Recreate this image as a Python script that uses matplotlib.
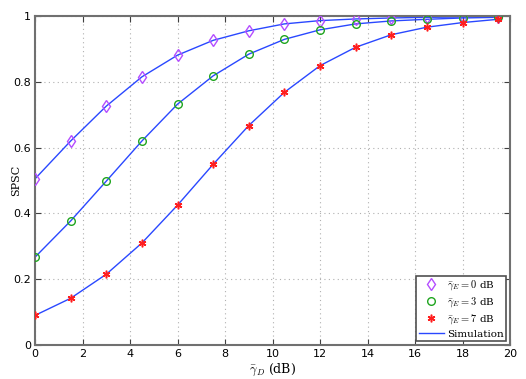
import matplotlib.pyplot as plt

plt.rcParams["mathtext.fontset"] = "cm"

# SNR of main channel (dB)
snr_db = [0, 1.5, 3, 4.5, 6, 7.5, 9, 10.5, 12, 13.5, 15, 16.5, 18, 19.5]

# SPSC for each eavesdropper average SNR
spsc_e0 = [0.505, 0.620, 0.726, 0.815, 0.881, 0.926, 0.955, 0.976, 0.986, 0.991, 0.994, 0.996, 0.997, 0.998]
spsc_e3 = [0.267, 0.377, 0.498, 0.620, 0.732, 0.818, 0.884, 0.929, 0.958, 0.976, 0.985, 0.990, 0.994, 0.996]
spsc_e7 = [0.090, 0.142, 0.215, 0.310, 0.425, 0.549, 0.667, 0.768, 0.849, 0.905, 0.943, 0.966, 0.980, 0.990]

labels = [r"$\bar{\gamma}_E = 0$ dB", r"$\bar{\gamma}_E = 3$ dB", r"$\bar{\gamma}_E = 7$ dB"]

fig = plt.figure(figsize=(5.26, 3.79), dpi=100)
ax = fig.add_axes([35 / 526, 34 / 379, 475 / 526, 329 / 379])

line_color = "#2a48ff"

# simulation curves
for ys in [spsc_e0, spsc_e3, spsc_e7]:
    ax.plot(snr_db, ys, color=line_color, linewidth=1.0, zorder=2)

# analytical markers
ax.plot(snr_db, spsc_e0, linestyle="none", marker="d", markersize=6.5, markerfacecolor="none",
        markeredgecolor="#b44dff", markeredgewidth=1.0, label=labels[0], zorder=3)
ax.plot(snr_db, spsc_e3, linestyle="none", marker="o", markersize=5.5, markerfacecolor="none",
        markeredgecolor="#1fa51f", markeredgewidth=1.0, label=labels[1], zorder=3)
ax.plot(snr_db, spsc_e7, linestyle="none", marker=(6, 2, 0), markersize=5.5, color="#ff1f1f",
        markeredgewidth=1.1, label=labels[2], zorder=3)
ax.plot([], [], color=line_color, linewidth=1.0, label="Simulation")

ax.set_xlim(0, 20)
ax.set_ylim(0, 1)
ax.set_xticks(range(0, 21, 2))
ax.set_yticks([0, 0.2, 0.4, 0.6, 0.8, 1])
ax.set_yticklabels(["0", "0.2", "0.4", "0.6", "0.8", "1"])

ax.grid(True, linestyle=(0, (1, 3)), color="#b0b0b0", linewidth=0.8)
ax.tick_params(direction="in", top=True, right=True, labelsize=8, length=4, colors="#404040",
               labelcolor="black", pad=3)
for sp in ax.spines.values():
    sp.set_color("#707070")
    sp.set_linewidth(1.5)

ax.set_xlabel(r"$\bar{\gamma}_D$ (dB)", fontsize=9, family="serif", labelpad=2)
ax.set_ylabel("SPSC", fontsize=8, family="serif")
ax.yaxis.set_label_coords(-0.03, 0.5)

leg = ax.legend(loc="lower right", fancybox=False, framealpha=1,
                edgecolor="#505050", handlelength=2.4, handletextpad=0.3,
                borderpad=0.25, labelspacing=0.3, borderaxespad=0.35,
                prop={"family": "serif", "size": 7.5})
leg.get_frame().set_linewidth(1.2)

fig.savefig("out.png", dpi=100)
